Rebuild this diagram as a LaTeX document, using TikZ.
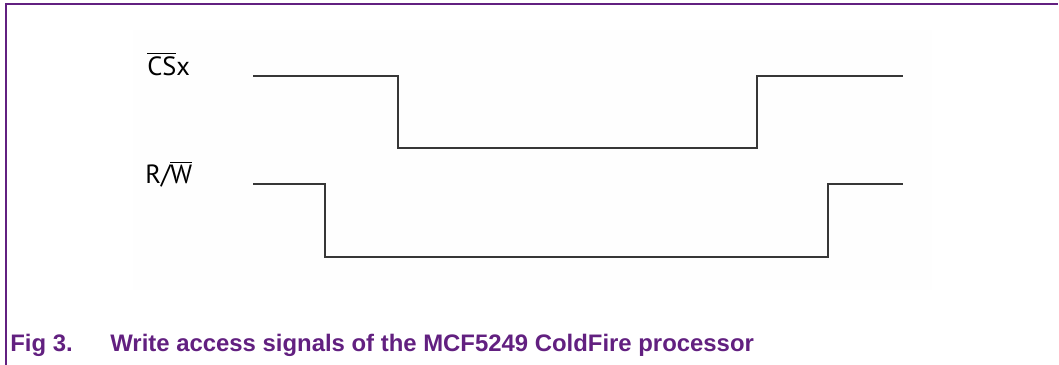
\documentclass[tikz,border=0pt]{standalone}
\usepackage{fontspec}
\usepackage{tikz}
\usetikzlibrary{positioning}
\newfontfamily\labelfont{PT Sans}
\newfontfamily\captionfont{Liberation Sans}
\definecolor{nxppurple}{RGB}{98,32,128}
\definecolor{wavegray}{RGB}{55,55,55}
\definecolor{panelgray}{RGB}{254,254,254}
\tikzset{
  frameline/.style={draw=nxppurple, line width=0.7pt},
  wave/.style={draw=wavegray, line width=1.1pt, line join=miter},
  siglabel/.style={anchor=base west, inner sep=0pt, font=\labelfont\fontsize{15}{18}\selectfont},
  figcaption/.style={anchor=base west, inner sep=0pt, text=nxppurple,
    font=\captionfont\bfseries\fontsize{13.6}{16}\selectfont}
}
\begin{document}
\begin{tikzpicture}[x=0.02cm, y=-0.02cm]
\useasboundingbox (0,0) rectangle (1059,365);
% frame
\fill[panelgray] (133,30) rectangle (932,290);
\draw[frameline] (6,365) -- (6,4) -- (1058,4);

% signal names
\node[siglabel] (csx) at (147,75) {$\overline{\mbox{CS}}$x};
\node[siglabel] (rw) at (145,183) {R/$\overline{\mbox{W}}$};

% waveforms
\draw[wave] (253,76) -- (398,76) -- (398,148) -- (757,148) -- (757,76) -- (903,76);
\draw[wave] (253,184) -- (325,184) -- (325,257) -- (828,257) -- (828,184) -- (903,184);

% caption
\node[figcaption] (fignum) at (10,351) {Fig 3.};
\node[figcaption] (figtext) at (110,351) {Write access signals of the MCF5249 ColdFire processor};
\end{tikzpicture}
\end{document}
